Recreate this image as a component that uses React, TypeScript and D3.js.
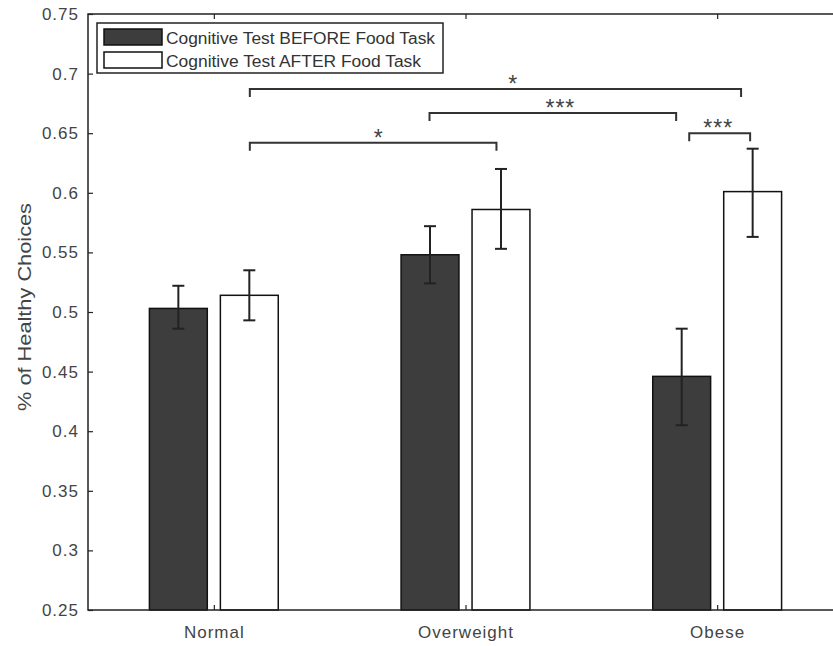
import React, { useEffect, useRef } from "react"
import * as d3 from "d3"

const categories = ["Normal", "Overweight", "Obese"]
const seriesNames = ["Cognitive Test BEFORE Food Task", "Cognitive Test AFTER Food Task"]
const beforeVals = [0.503, 0.548, 0.446]
const beforeLo = [0.486, 0.524, 0.405]
const beforeHi = [0.522, 0.572, 0.486]
const afterVals = [0.514, 0.586, 0.601]
const afterLo = [0.493, 0.553, 0.563]
const afterHi = [0.535, 0.62, 0.637]
const yTicks = [0.25, 0.3, 0.35, 0.4, 0.45, 0.5, 0.55, 0.6, 0.65, 0.7, 0.75]

// significance brackets: x in category units, y in data units
const bracketX1 = [0.143, 0.143, 0.857, 1.889]
const bracketX2 = [2.095, 1.123, 1.837, 2.131]
const bracketY = [0.687, 0.642, 0.667, 0.65]
const bracketLabelX = [1.19, 0.655, 1.377, 2.004]
const bracketLabel = ["*", "*", "***", "***"]

const W = 833
const H = 646

export default function App() {
    const ref = useRef<SVGSVGElement>(null)

    useEffect(() => {
        const svg = d3.select(ref.current)
        svg.selectAll("*").remove()

        const left = 88, right = 843, top = 14, bottom = 610
        const x = d3.scaleLinear().domain([-0.5, 2.5]).range([left, right])
        const y = d3.scaleLinear().domain([0.25, 0.75]).range([bottom, top])
        const barW = 0.23
        const off = 0.141
        const font = "'Liberation Sans', Arial, Helvetica, sans-serif"

        const series = [
            { vals: beforeVals, lo: beforeLo, hi: beforeHi, fill: "#3d3d3d", dx: -off },
            { vals: afterVals, lo: afterLo, hi: afterHi, fill: "#ffffff", dx: off },
        ]

        // bars
        series.forEach(s => {
            svg.append("g").selectAll("rect")
                .data(s.vals)
                .enter()
                .append("rect")
                .attr("x", (d, i) => x(i + s.dx - barW / 2))
                .attr("width", x(barW) - x(0))
                .attr("y", d => y(d))
                .attr("height", d => y(0.25) - y(d))
                .attr("fill", s.fill)
                .attr("stroke", "#111")
                .attr("stroke-width", 1.5)
        })

        // error bars
        series.forEach(s => {
            const g = svg.append("g").attr("stroke", "#222").attr("stroke-width", 2)
            s.vals.forEach((d, i) => {
                const cx = x(i + s.dx)
                g.append("line").attr("x1", cx).attr("x2", cx).attr("y1", y(s.lo[i])).attr("y2", y(s.hi[i]))
                g.append("line").attr("x1", cx - 6).attr("x2", cx + 6).attr("y1", y(s.lo[i])).attr("y2", y(s.lo[i]))
                g.append("line").attr("x1", cx - 6).attr("x2", cx + 6).attr("y1", y(s.hi[i])).attr("y2", y(s.hi[i]))
            })
        })

        // axes box
        const axisG = svg.append("g").attr("stroke", "#222").attr("stroke-width", 1.5).attr("fill", "none")
        axisG.append("rect").attr("x", left).attr("y", top).attr("width", right - left).attr("height", bottom - top)

        const yAxis = d3.axisLeft(y).tickValues(yTicks).tickSize(-5).tickPadding(9).tickFormat(d3.format("~g"))
        const yg = svg.append("g").attr("transform", `translate(${left},0)`).call(yAxis)
        const yAxisR = d3.axisRight(y).tickValues(yTicks).tickSize(-5).tickFormat(() => "")
        const yr = svg.append("g").attr("transform", `translate(${right},0)`).call(yAxisR)
        const xAxis = d3.axisBottom(x).tickValues([0, 1, 2]).tickSize(-5).tickPadding(16).tickFormat((d: any) => categories[d])
        const xg = svg.append("g").attr("transform", `translate(0,${bottom})`).call(xAxis)
        const xAxisT = d3.axisTop(x).tickValues([0, 1, 2]).tickSize(-5).tickFormat(() => "")
        const xt = svg.append("g").attr("transform", `translate(0,${top})`).call(xAxisT)

        ;[yg, yr, xg, xt].forEach(g => {
            g.select(".domain").remove()
            g.selectAll(".tick line").attr("stroke", "#222").attr("stroke-width", 1.2)
            g.selectAll(".tick text")
                .attr("fill", "#444")
                .style("font-family", font)
                .style("font-size", "17px")
                .style("letter-spacing", "1px")
        })

        // y label
        svg.append("text")
            .attr("transform", "translate(31,307) rotate(-90)")
            .attr("text-anchor", "middle")
            .attr("fill", "#444")
            .style("font-family", font)
            .style("font-size", "18px")
            .attr("textLength", 208)
            .attr("lengthAdjust", "spacingAndGlyphs")
            .text("% of Healthy Choices")

        // significance brackets
        const bg = svg.append("g")
        bracketY.forEach((by, i) => {
            const x1 = x(bracketX1[i]), x2 = x(bracketX2[i]), yy = y(by)
            bg.append("path")
                .attr("d", `M${x1},${yy + 8}V${yy}H${x2}V${yy + 8}`)
                .attr("fill", "none")
                .attr("stroke", "#333")
                .attr("stroke-width", 2)
            bg.append("text")
                .attr("x", x(bracketLabelX[i]))
                .attr("y", yy + 3)
                .attr("text-anchor", "middle")
                .attr("fill", "#444")
                .style("font-family", font)
                .style("font-size", "23px")
                .style("letter-spacing", "1px")
                .text(bracketLabel[i])
        })

        // legend
        const lg = svg.append("g")
        lg.append("rect").attr("x", 97).attr("y", 23).attr("width", 346).attr("height", 50)
            .attr("fill", "#fff").attr("stroke", "#222").attr("stroke-width", 1.5)
        const legLen = [269, 255]
        series.forEach((s, i) => {
            const ly = 29 + i * 23
            lg.append("rect").attr("x", 104).attr("y", ly).attr("width", 58).attr("height", 16)
                .attr("fill", s.fill).attr("stroke", "#111").attr("stroke-width", 1.5)
            lg.append("text")
                .attr("x", 166)
                .attr("y", ly + 15)
                .attr("fill", "#333")
                .style("font-family", font)
                .style("font-size", "16px")
                .attr("textLength", legLen[i])
                .attr("lengthAdjust", "spacingAndGlyphs")
                .text(seriesNames[i])
        })
    }, [])

    return (
        <svg ref={ref} width={W} height={H}
            style={{ position: "fixed", left: 0, top: 0, background: "#fff" }} />
    )
}
